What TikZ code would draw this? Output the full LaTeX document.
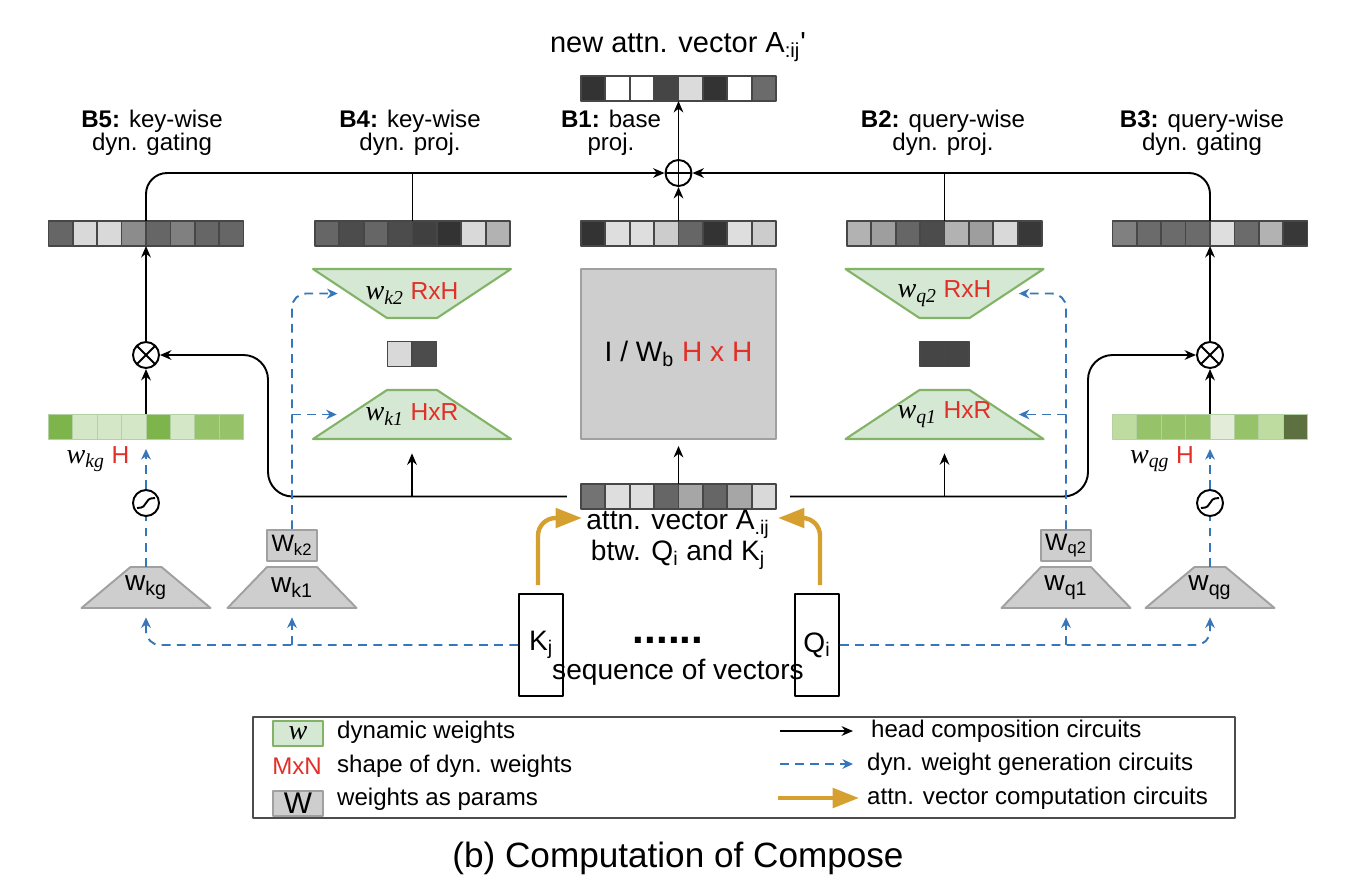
\documentclass[tikz,border=0pt]{standalone}
\usepackage{fontspec}
\setmainfont{Liberation Sans}
\newfontfamily\wserif{Liberation Serif}
\usetikzlibrary{arrows.meta,calc}

\newlength{\pxu}\setlength{\pxu}{0.02cm}
\definecolor{dynfill}{HTML}{D5E8D4}
\definecolor{dynline}{HTML}{82B366}
\definecolor{parfill}{RGB}{206,206,206}
\definecolor{parline}{RGB}{160,160,160}
\definecolor{dynblue}{RGB}{55,118,185}
\definecolor{attgold}{RGB}{214,160,48}
\definecolor{shapered}{RGB}{226,48,40}
\definecolor{gD}{RGB}{125,180,75}
\definecolor{gL}{RGB}{212,231,198}
\definecolor{gM}{RGB}{150,195,105}
\definecolor{gLL}{RGB}{190,220,160}
\definecolor{gVL}{RGB}{226,236,216}
\definecolor{gDk}{RGB}{92,112,64}

\newcommand{\fs}[2]{\fontsize{#1}{#2}\selectfont}
\newcommand{\dynw}[1]{{\wserif\itshape\fontsize{16}{18}\selectfont w\textsubscript{#1}}}
\newcommand{\shp}[1]{\textcolor{shapered}{#1}}

\tikzset{
  hc/.style={line width=1.1pt, black},
  dw/.style={line width=1.1pt, dynblue, dash pattern=on 5pt off 3.6pt, >={Stealth[length=6pt,width=5.5pt]}},
  av/.style={line width=2.5pt, attgold, -{Triangle[length=15pt,width=11pt]}},
  vecnode/.style={inner sep=0, outer sep=0, minimum height=25\pxu},
  cellg/.style={draw=black!72, line width=1pt},
  cellgr/.style={draw=dynline!60, line width=0.5pt},
  blbl/.style={font=\fs{13.7}{13.2}, align=center},
  dynt/.style={draw=dynline, fill=dynfill, line width=1.2pt},
  part/.style={draw=parline, fill=parfill, line width=1.1pt},
  opnode/.style={circle, draw, line width=1.1pt, minimum size=26\pxu, inner sep=0},
  seqbox/.style={draw, line width=1.1pt, minimum width=44\pxu, minimum height=102\pxu, inner sep=0, font=\fs{16}{18}},
  legt/.style={anchor=west, font=\fs{13.7}{15}}
}

% #1 cell style, #2 name, #3 centre, #4 cells, #5 fills
\newcommand{\vecrow}[5][cellg]{%
  \node[vecnode, minimum width=#4*24.4\pxu] (#2) at (#3) {};
  \foreach \f [count=\i from 0] in {#5}
    \draw[#1, fill=\f] ($(#2.north west)+(\i*24.4,0)$) rectangle ++(24.4,25);
}
% #1 style, #2 name, #3 cx, #4 cy, #5 top width, #6 bottom width, #7 height, #8 text
\newcommand{\trap}[8]{%
  \draw[#1] (#3-#6/2,#4+#7/2) -- (#3-#5/2,#4-#7/2) -- (#3+#5/2,#4-#7/2) -- (#3+#6/2,#4+#7/2) -- cycle;
  \node[inner sep=0, minimum width={max(#5,#6)*\pxu}, minimum height=#7\pxu] (#2) at (#3,#4) {#8};
}

\begin{document}
\begin{tikzpicture}[x=0.02cm, y=-0.02cm, >={Stealth[length=6.5pt,width=5.5pt]}, line join=round]
\useasboundingbox (0,0) rectangle (1358,894);

% top: output vector and branch labels
\node[font=\fs{16.5}{18}] (title) at (678,47) {new attn. vector A\textsubscript{:ij}\textquotesingle};
\vecrow{vtop}{678.5,88.5}{8}{black!80,white,white,black!73,black!14,black!80,white,black!58}
\node[blbl] (lb5) at (152,133) {\textbf{B5:} key-wise\\dyn. gating};
\node[blbl] (lb4) at (410,133) {\textbf{B4:} key-wise\\dyn. proj.};
\node[blbl] (lb1) at (611,133) {\textbf{B1:} base\\proj.};
\node[blbl] (lb2) at (943,133) {\textbf{B2:} query-wise\\dyn. proj.};
\node[blbl] (lb3) at (1202,133) {\textbf{B3:} query-wise\\dyn. gating};
\node[opnode, path picture={\draw[line width=1.1pt] (path picture bounding box.north) -- (path picture bounding box.south) (path picture bounding box.west) -- (path picture bounding box.east);}] (oplus) at (678.5,173) {};

% branch outputs
\vecrow{vb5}{146,233.5}{8}{black!60,black!15,black!15,black!45,black!60,black!50,black!60,black!60}
\vecrow{vb4}{412.5,233.5}{8}{black!60,black!70,black!60,black!70,black!75,black!80,black!15,black!30}
\vecrow{vb1}{678.5,233.5}{8}{black!80,black!13,black!13,black!20,black!60,black!80,black!13,black!20}
\vecrow{vb2}{944.5,233.5}{8}{black!30,black!38,black!60,black!70,black!30,black!38,black!15,black!78}
\vecrow{vb3}{1210,233.5}{8}{black!50,black!58,black!58,black!58,black!13,black!58,black!30,black!78}

% base projection
\node[part, minimum width=195\pxu, minimum height=170\pxu, inner sep=0, font=\fs{16}{18}] (wb) at (678.5,354) {I / W\textsubscript{b} \shp{H x H}};

% dynamic projections
\trap{dynt}{dk2}{412}{293.5}{198}{50}{49}{\fs{14}{16}\dynw{k2} \shp{RxH}}
\vecrow{vk}{412,354}{2}{black!15,black!70}
\trap{dynt}{dk1}{412}{414.5}{50}{198}{49}{\fs{14}{16}\dynw{k1} \shp{HxR}}
\trap{dynt}{dq2}{944.5}{293.5}{198}{50}{49}{\fs{14}{16}\dynw{q2} \shp{RxH}}
\vecrow{vq}{944.5,354}{2}{black!73,black!73}
\trap{dynt}{dq1}{944.5}{414.5}{50}{198}{49}{\fs{14}{16}\dynw{q1} \shp{HxR}}

% dynamic gating
\node[opnode, path picture={\draw[line width=1.1pt] (path picture bounding box.north west) -- (path picture bounding box.south east) (path picture bounding box.south west) -- (path picture bounding box.north east);}] (otk) at (146,355) {};
\node[opnode, path picture={\draw[line width=1.1pt] (path picture bounding box.north west) -- (path picture bounding box.south east) (path picture bounding box.south west) -- (path picture bounding box.north east);}] (otq) at (1210,355) {};
\vecrow[cellgr]{vg5}{146,426.5}{8}{gD,gL,gL,gL,gD,gL,gM,gM}
\vecrow[cellgr]{vg3}{1210,426.5}{8}{gLL,gM,gM,gM,gVL,gM,gLL,gDk}
\node[font=\fs{14}{16}] (lgk) at (98,459) {\dynw{kg} \shp{H}};
\node[font=\fs{14}{16}] (lgq) at (1162,459) {\dynw{qg} \shp{H}};
\node[opnode] (sgk) at (146,503) {};
\node[opnode] (sgq) at (1210,503) {};
\draw[hc] ($(sgk)+(-9,5)$) .. controls +(13,0) and +(-13,0) .. ($(sgk)+(9,-5)$);
\draw[hc] ($(sgq)+(-9,5)$) .. controls +(13,0) and +(-13,0) .. ($(sgq)+(9,-5)$);

% weights as params
\trap{part}{pkg}{146}{587.5}{31}{129}{41}{\fs{16}{18}w\textsubscript{kg}}
\trap{part}{pk1}{292}{587.5}{50}{129}{41}{\fs{16}{18}w\textsubscript{k1}}
\trap{part}{pq1}{1066}{587.5}{50}{129}{41}{\fs{16}{18}w\textsubscript{q1}}
\trap{part}{pqg}{1210}{587.5}{31}{129}{41}{\fs{16}{18}w\textsubscript{qg}}
\node[part, minimum width=50\pxu, minimum height=31\pxu, inner sep=0, font=\fs{13.5}{15}] (pk2) at (292,545.5) {W\textsubscript{k2}};
\node[part, minimum width=50\pxu, minimum height=31\pxu, inner sep=0, font=\fs{13.5}{15}] (pq2) at (1066,545.5) {W\textsubscript{q2}};

% attention vector and sequence
\vecrow{aij}{678.5,496.5}{8}{black!55,black!13,black!13,black!60,black!35,black!60,black!35,black!15}
\node[font=\fs{16}{15.3}, align=center] (atxt) at (678,540) {attn. vector A\textsubscript{.ij}\\btw. Q\textsubscript{i} and K\textsubscript{j}};
\node[seqbox] (kj) at (541,645) {K\textsubscript{j}};
\node[seqbox] (qi) at (817,645) {Q\textsubscript{i}};
\node[font=\fs{24}{24}\bfseries] (dots) at (668,640) {......};
\node[font=\fs{16}{18}] (seq) at (678,672) {sequence of vectors};

% head composition circuits
\draw[hc,->] (oplus.north) -- (vtop.south);
\draw[hc,->] (vb1.north) -- (oplus.south);
\draw[hc,->,rounded corners=12] (vb5.north) |- (oplus.west);
\draw[hc,->,rounded corners=12] (vb3.north) |- (oplus.east);
\draw[hc] (vb4.north) -- (vb4.north |- oplus.west);
\draw[hc] (vb2.north) -- (vb2.north |- oplus.east);
\draw[hc,->] (otk.north) -- (vb5.south);
\draw[hc,->] (otq.north) -- (vb3.south);
\draw[hc,->] (vg5.north) -- (otk.south);
\draw[hc,->] (vg3.north) -- (otq.south);
\draw[hc,->,shorten >=0.12cm] (aij.north) -- (wb.south);
\coordinate (lk) at (268,355);
\coordinate (rk) at (1088,355);
\draw[hc,->,rounded corners=14] ($(aij.west)+(-14,0)$) -| (lk) -- (otk.east);
\draw[hc,->,rounded corners=14] ($(aij.east)+(14,0)$) -| (rk) -- (otq.west);
\draw[hc,->,shorten >=0.28cm] (dk1.south |- aij.west) -- (dk1.south);
\draw[hc,->,shorten >=0.28cm] (dq1.south |- aij.east) -- (dq1.south);

% dyn. weight generation circuits
\draw[dw] (pkg.north) -- (sgk.south);
\draw[dw] (pqg.north) -- (sgq.south);
\draw[dw,->,shorten >=0.2cm] (sgk.north) -- (vg5.south);
\draw[dw,->,shorten >=0.2cm] (sgq.north) -- (vg3.south);
\draw[dw,->,rounded corners=8] (kj.west) -| ($(pkg.south)+(0,9)$);
\draw[dw,->] (pk1.south |- kj.west) -- ($(pk1.south)+(0,9)$);
\draw[dw,->,rounded corners=8] (qi.east) -| ($(pqg.south)+(0,9)$);
\draw[dw,->] (pq1.south |- qi.east) -- ($(pq1.south)+(0,9)$);
\draw[dw,->,rounded corners=8] (pk2.north) |- ($(dk2.west)+(25,0)$);
\draw[dw,->] (pk2.north |- dk1.west) -- ($(dk1.west)+(24,0)$);
\draw[dw,->,rounded corners=8] (pq2.north) |- ($(dq2.east)+(-25,0)$);
\draw[dw,->] (pq2.north |- dq1.east) -- ($(dq1.east)+(-25,0)$);

% attn. vector computation circuits
\draw[av,rounded corners=10] ($(kj.north)+(-3,-8)$) |- ($(aij.south west)+(1,9)$);
\draw[av,rounded corners=10] ($(qi.north)+(3,-8)$) |- ($(aij.south east)+(2,9)$);

% legend
\node[draw=black!70, line width=0.8pt, minimum width=982\pxu, minimum height=101\pxu, inner sep=0] (legend) at (744,767.5) {};
\node[dynt, minimum width=50\pxu, minimum height=25\pxu, inner sep=0, font=\fs{16}{16}] (lgw) at (298,733.5) {\wserif\itshape w};
\node[font=\fs{13.7}{15}, text=shapered] (lgs) at (297,766) {MxN};
\node[part, minimum width=50\pxu, minimum height=25\pxu, inner sep=0, font=\fs{17}{17}] (lgp) at (298,803.5) {W};
\node[legt] (lt1) at (331,732) {dynamic weights};
\node[legt] (lt2) at (331,766) {shape of dyn. weights};
\node[legt] (lt3) at (331,799) {weights as params};
\node[legt] (rt1) at (865,731) {head composition circuits};
\node[legt] (rt2) at (861,764) {dyn. weight generation circuits};
\node[legt] (rt3) at (861,798) {attn. vector computation circuits};
\draw[hc,->] ($(rt1.west)+(-85,0)$) -- ($(rt1.west)+(-12,0)$);
\draw[dw,->] ($(rt2.west)+(-81,0)$) -- ($(rt2.west)+(-8,0)$);
\draw[av] ($(rt3.west)+(-83,0)$) -- ($(rt3.west)+(-2,0)$);

\node[font=\fs{20}{22}] (cap) at (678,858) {(b) Computation of Compose};
\end{tikzpicture}
\end{document}
